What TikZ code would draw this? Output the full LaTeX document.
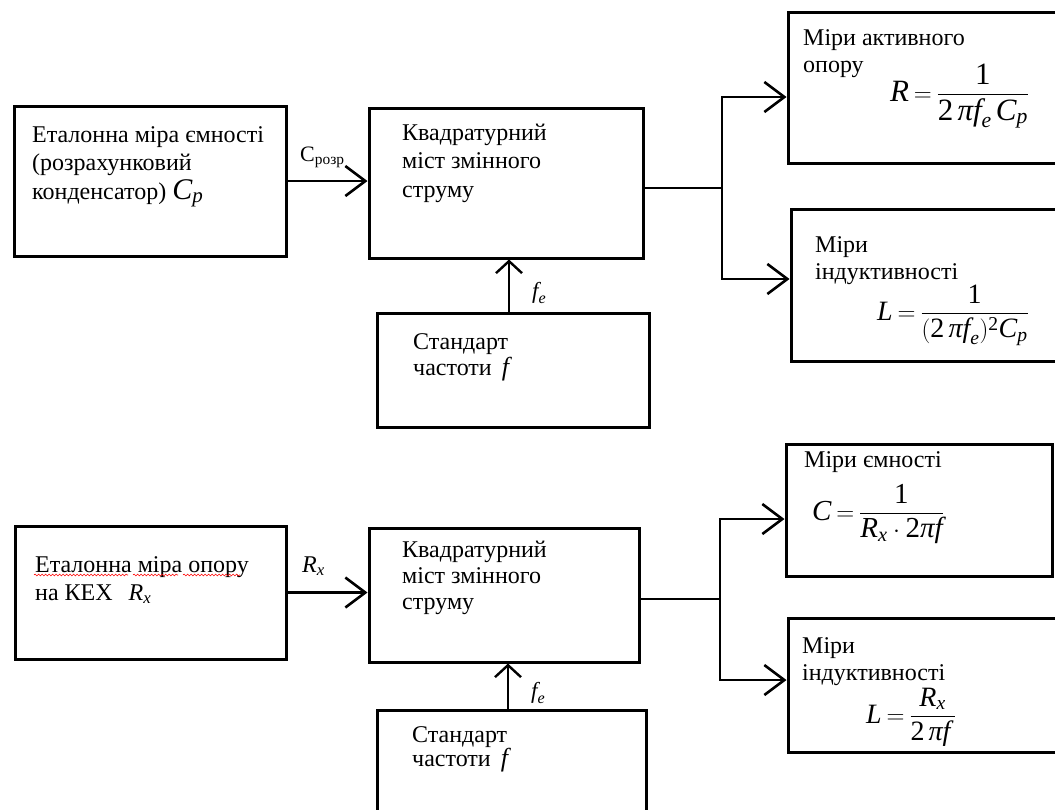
\documentclass[tikz,border=0pt]{standalone}
\usepackage{amsmath}
\usepackage{fontspec}
\setmainfont{Liberation Serif}
\usetikzlibrary{arrows.meta,decorations.pathmorphing}
% italic letters and upright digits in formulas
\newcommand\mv[1]{\textit{#1}}
\newcommand\nm[1]{\textup{#1}}
\newcommand\tstrut{\rule{0pt}{20pt}}
\newcommand\fsz[2]{\fontsize{#1}{#2}\selectfont}
\newcommand\tighteq{\thickmuskip=3.5mu}

\begin{document}
\begin{tikzpicture}[x=1pt,y=-1pt,
  blk/.style={draw,line width=3pt,inner sep=0pt,rectangle},
  txt/.style={anchor=north west,inner sep=0pt,align=left,font=\fsz{24}{28.5}},
  fml/.style={anchor=base west,inner sep=0pt},
  lbl/.style={anchor=base west,inner sep=0pt,font=\fsz{23}{23}},
  wire/.style={line width=2.6pt},
  conn/.style={line width=2.6pt,-{Straight Barb[length=20pt,width=30pt]}},
  upconn/.style={line width=2.4pt,-{Straight Barb[length=12pt,width=26pt]}},
  squig/.style={draw=red,line width=0.6pt,decorate,decoration={snake,amplitude=0.9pt,segment length=3.5pt}}]

\path[use as bounding box,fill=white] (0,0) rectangle (1055,809);
\clip (0,0) rectangle (1055,809);

% ---------- upper scheme ----------
\node[blk,minimum width=272pt,minimum height=150pt] (A1) at (150,181) {};
\node[blk,minimum width=274pt,minimum height=150pt] (B1) at (506,183) {};
\node[blk,minimum width=272pt,minimum height=114pt] (S1) at (513,370) {};
\node[blk,minimum width=274pt,minimum height=151pt] (R1) at (925,87.5) {};
\node[blk,minimum width=271pt,minimum height=152pt] (L1) at (926.5,285) {};

\node[txt] (A1t) at (32,122) {\tstrut Еталонна міра ємності\\(розрахунковий\\конденсатор) {\fsz{30}{30}$\mv{C}_{\mv{p}}$}};
\node[txt] (B1t) at (402,120) {\tstrut Квадратурний\\міст змінного\\струму};
\node[txt,font=\fsz{24}{26}] (S1t) at (413,329) {\tstrut Стандарт\\частоти\, {\fsz{26}{26}$\mv{f}$}};
\node[txt,font=\fsz{24}{27}] (R1t) at (803,25) {\tstrut Міри активного\\опору};
\node[txt,font=\fsz{24}{27}] (L1t) at (815,232) {\tstrut Міри\\індуктивності};

\node[fml,font=\fsz{31}{31}] (R1f) at (890,101)
  {$\tighteq\mv{R} = \dfrac{\nm{1}}{\nm{2}\,\mv{π}\mv{f}_{\mv{e}}\,\mv{C}_{\mv{p}}}$};
\node[fml,font=\fsz{28}{28}] (L1f) at (877,320)
  {$\tighteq\mv{L} = \dfrac{\nm{1}}{(\nm{2}\,\mv{π}\mv{f}_{\mv{e}})^{\nm{2}}\mv{C}_{\mv{p}}}$};

\node[lbl,font=\fsz{22}{22}] (A1l) at (300,161) {C$_{\text{розр}}$};
\node[lbl] (S1l) at (532,298) {$\mv{f}_{\mv{e}}$};

\draw[conn] (A1.east) -- (A1.east -| B1.west);
\coordinate (j1) at (722,188);
\draw[wire] (B1.east |- j1) -- (j1);
\draw[conn] (j1) |- ([yshift=-9.5pt]R1.west);
\draw[conn] (j1) |- ([yshift=6pt]L1.west);
\draw[upconn] ([xshift=-4pt]S1.north) -- ([xshift=-4pt]S1.north |- B1.south);

% ---------- lower scheme ----------
\node[blk,minimum width=271pt,minimum height=133pt] (A2) at (150.5,592.5) {};
\node[blk,minimum width=270pt,minimum height=134pt] (B2) at (504,595) {};
\node[blk,minimum width=269pt,minimum height=120pt] (S2) at (511.5,770) {};
\node[blk,minimum width=266pt,minimum height=132pt] (C2) at (919,510) {};
\node[blk,minimum width=274pt,minimum height=134pt] (L2) at (925,685) {};

\node[txt,font=\fsz{24}{28}] (A2t) at (35,552) {\tstrut Еталонна міра опору\\на КЕХ\hspace{16pt}$\mv{R}_{\mv{x}}$};
\node[txt,font=\fsz{24}{26}] (B2t) at (402,537) {\tstrut Квадратурний\\міст змінного\\струму};
\node[txt,font=\fsz{24}{24}] (S2t) at (412,722) {\tstrut Стандарт\\частоти\, {\fsz{26}{26}$\mv{f}$}};
\node[txt] (C2t) at (804,447) {\tstrut Міри ємності};
\node[txt,font=\fsz{24}{27}] (L2t) at (802,633) {\tstrut Міри\\індуктивності};

\node[fml,font=\fsz{29}{29}] (C2f) at (812,520)
  {$\tighteq\mv{C} = \dfrac{\nm{1}}{\mv{R}_{\mv{x}}\cdot \nm{2}\mv{π}\mv{f}}$};
\node[fml,font=\fsz{28}{28}] (L2f) at (866,723)
  {$\tighteq\mv{L} = \dfrac{\mv{R}_{\mv{x}}}{\nm{2}\,\mv{π}\mv{f}\,}$};

\node[lbl,font=\fsz{24}{24}] (A2l) at (302,572) {$\mv{R}_{\mv{x}}$};
\node[lbl] (S2l) at (531,698) {$\mv{f}_{\mv{e}}$};

% spell-check underline
\path[squig] (34,575) -- (128,575);
\path[squig] (133,575) -- (178,575);
\path[squig] (183,575) -- (240,575);

\draw[conn] (A2.east) -- (A2.east -| B2.west);
\coordinate (j2) at (720,599);
\draw[wire] (B2.east |- j2) -- (j2);
\draw[conn] (j2) |- ([yshift=-9pt]C2.west);
\draw[conn] (j2) |- ([yshift=5pt]L2.west);
\draw[upconn] ([xshift=-3.5pt]S2.north) -- ([xshift=-3.5pt]S2.north |- B2.south);

\end{tikzpicture}
\end{document}
